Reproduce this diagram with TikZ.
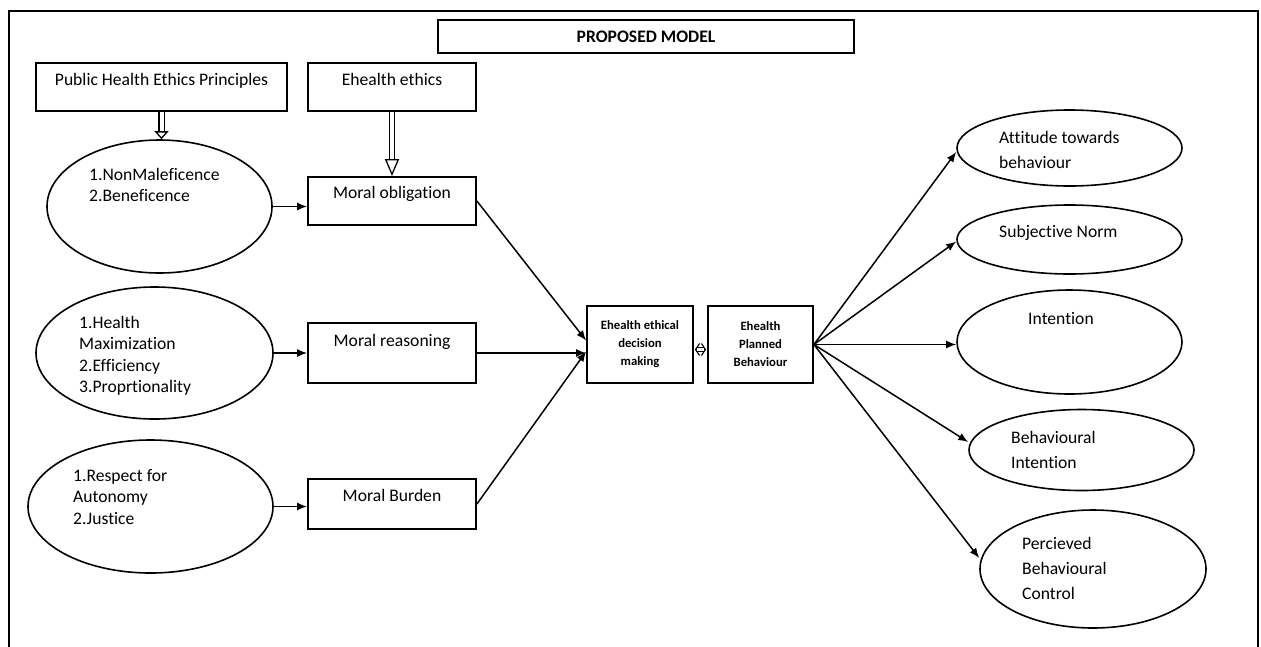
\documentclass[tikz,border=0pt]{standalone}
\usepackage{fontspec}
\setmainfont{Carlito}[Ligatures=NoCommon]
\usepackage{tikz}
\usetikzlibrary{positioning, arrows.meta, shapes.geometric}

\begin{document}
\begin{tikzpicture}[x=1pt, y=-1pt, >={Latex[length=10pt,width=8pt]},
  box/.style={draw, line width=1.8pt, inner sep=0pt},
  oval/.style={draw, ellipse, line width=1.6pt, inner sep=0pt},
  lbl/.style={inner sep=0pt, font=\fontsize{17.6}{21.5}\selectfont, align=left},
  rlbl/.style={inner sep=0pt, font=\fontsize{17.6}{25}\selectfont, align=left},
  small/.style={font=\bfseries\fontsize{12.7}{18}\selectfont, align=center},
  link/.style={->, line width=1.5pt},
  hollow/.style={double, double distance=4pt, line width=1.3pt,
    -{Triangle[open, length=#1, width=14pt, line width=1.3pt]}}]
            \useasboundingbox (0,0) rectangle (1261,646);
            % Frame
            \draw[line width=2.5pt] (9,660) |- (1258,11) -- (1258,660);

            % Nodes
            \node[box, minimum width=416pt, minimum height=33pt, font=\bfseries\fontsize{17.6}{20}\selectfont] (title) at (646,36.5) {PROPOSED MODEL};
            \node[box, minimum width=251pt, minimum height=48pt] (phep) at (161.5,87) {};
            \node[box, minimum width=168pt, minimum height=48pt] (eethics) at (392,87) {};
            \node[box, minimum width=168pt, minimum height=48pt] (oblig) at (392,201) {};
            \node[box, minimum width=168pt, minimum height=60pt] (reason) at (392,353) {};
            \node[box, minimum width=168pt, minimum height=50pt] (burden) at (392,504) {};
            \node[box, small, minimum width=106pt, minimum height=77pt] (decide) at (640,344.5) {Ehealth ethical\\decision\\making};
            \node[box, small, minimum width=105pt, minimum height=77pt] (pbehav) at (760.5,344.5) {Ehealth\\Planned\\Behaviour};

            \node[lbl, below=11pt of phep.north] (pheptxt) {Public Health Ethics Principles};
            \node[lbl, below=11pt of eethics.north] (eethicstxt) {Ehealth ethics};
            \node[lbl, below=10pt of oblig.north] (obligtxt) {Moral obligation};
            \node[lbl, below=12pt of reason.north] (reasontxt) {Moral reasoning};
            \node[lbl, below=11pt of burden.north] (burdentxt) {Moral Burden};

            % Ellipses
            \node[oval, minimum width=225pt, minimum height=133pt] (nonmal) at (159.5,206.5) {};
            \node[oval, minimum width=237pt, minimum height=132pt] (maxim) at (154.5,353) {};
            \node[oval, minimum width=245pt, minimum height=133pt] (respect) at (150.5,506.5) {};
            \node[oval, minimum width=225pt, minimum height=76pt] (attit) at (1069.5,148) {};
            \node[oval, minimum width=225pt, minimum height=69pt] (subj) at (1069.5,239.5) {};
            \node[oval, minimum width=225pt, minimum height=104pt] (intent) at (1069.5,342) {};
            \node[oval, minimum width=225pt, minimum height=81pt] (binten) at (1081.5,450) {};
            \node[oval, minimum width=226pt, minimum height=118pt] (pcontrol) at (1093,569) {};

            \node[lbl, anchor=north west] (nonmaltxt) at (89,168) {1.NonMaleficence\\2.Beneficence};
            \node[lbl, anchor=north west] (maximtxt) at (79,316) {1.Health\\Maximization\\2.Efficiency\\3.Proprtionality};
            \node[lbl, anchor=north west] (respecttxt) at (73,469) {1.Respect for\\Autonomy\\2.Justice};
            \node[rlbl, anchor=north west] (attittxt) at (999,131) {Attitude towards\\behaviour};
            \node[rlbl, anchor=north west] (subjtxt) at (999,225) {Subjective Norm};
            \node[rlbl, anchor=north] (intenttxt) at (1061,312) {Intention};
            \node[rlbl, anchor=north west] (bintentxt) at (1011,431) {Behavioural\\Intention};
            \node[rlbl, anchor=north west] (pcontroltxt) at (1022,537) {Percieved\\Behavioural\\Control};

            % Arrows
            \draw[hollow=8pt] (phep.south) -- (phep.south |- nonmal.north);
            \draw[hollow=17pt] (eethics.south) -- (oblig.north);
            \draw[link] (nonmal.east) -- (nonmal.east -| oblig.west);
            \draw[link] (maxim.east) -- (maxim.east -| reason.west);
            \draw[link] (respect.east) -- (respect.east -| burden.west);
            \draw[link] (oblig.east) -- ([yshift=4pt]decide.west);
            \draw[link] (reason.east) -- (reason.east -| decide.west);
            \draw[link] (burden.east) -- ([yshift=-7pt]decide.west);
            % two-way hollow link
            \draw[line width=1.1pt, {Straight Barb[length=4pt,width=12pt]}-{Straight Barb[length=4pt,width=12pt]}]
                ([yshift=-5pt,xshift=1pt]decide.east) -- ([yshift=-5pt,xshift=-1pt]pbehav.west);
            \draw[double, double distance=3pt, line width=1pt, shorten <=3pt, shorten >=3pt]
                ([yshift=-5pt]decide.east) -- ([yshift=-5pt]pbehav.west);
            \draw[link] (pbehav.east) -- ([yshift=-4pt]attit.west);
            \draw[link] (pbehav.east) -- ([yshift=-2pt]subj.west);
            \draw[link] (pbehav.east) -- (pbehav.east -| intent.west);
            \draw[link] (pbehav.east) -- ([yshift=8pt]binten.west);
            \draw[link] (pbehav.east) -- ([yshift=11pt]pcontrol.west);
\end{tikzpicture}
\end{document}
